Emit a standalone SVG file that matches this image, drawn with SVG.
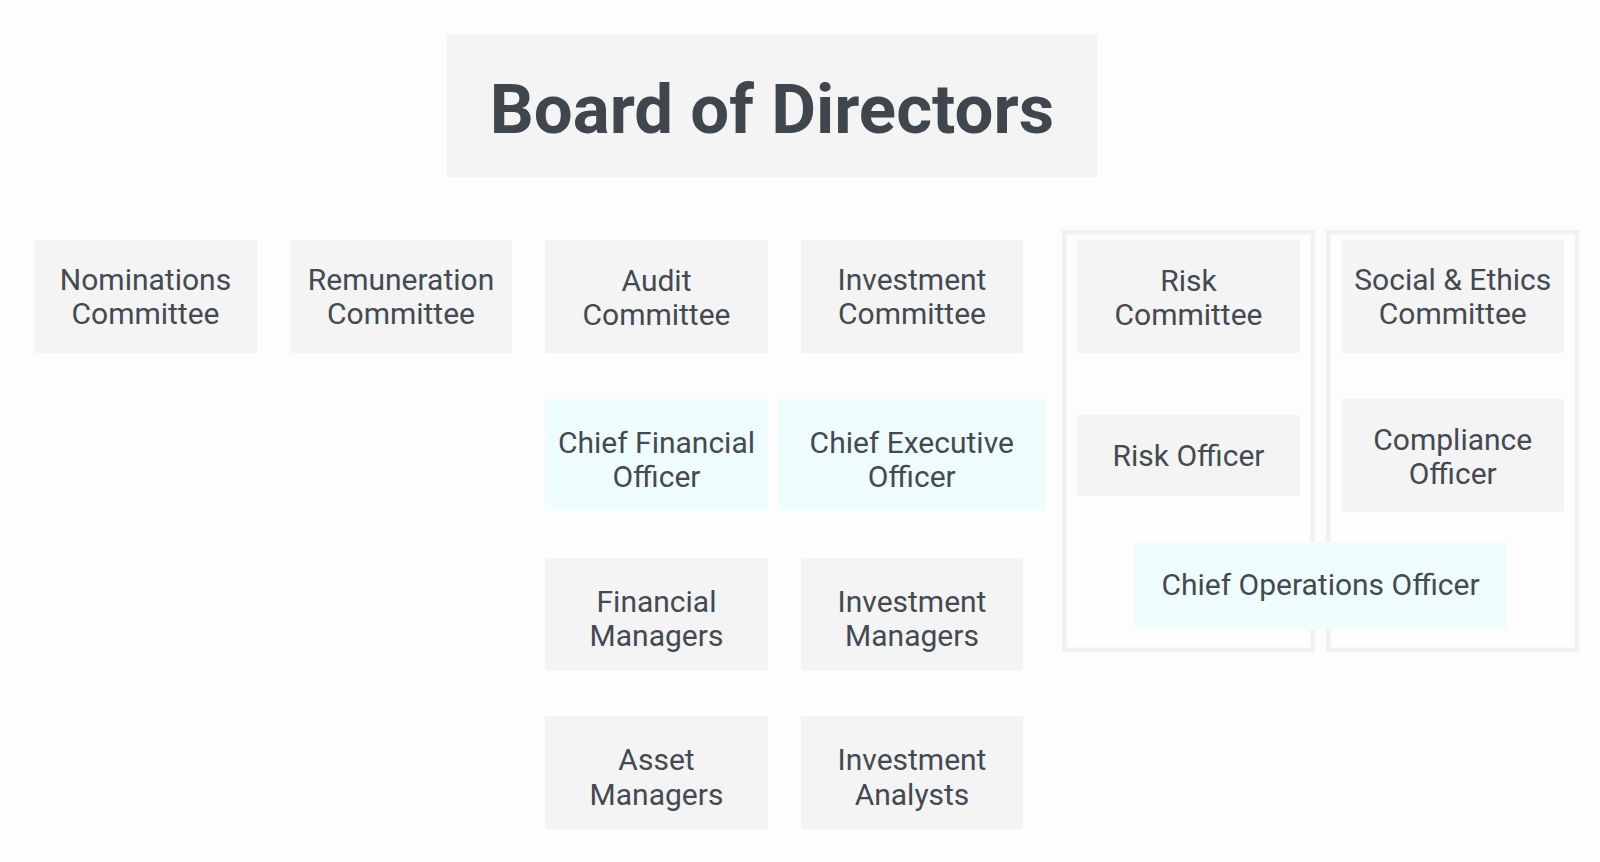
<svg xmlns="http://www.w3.org/2000/svg" width="1600" height="862" viewBox="0 0 1600 862">
<style>
  .box { fill: #f4f4f4; }
  .blue { fill: #f0fdff; }
  .frame { fill: none; stroke: #f1f1f1; stroke-width: 4.5; }
  .t { font-family: Roboto, "Liberation Sans", sans-serif; font-size: 30px; fill: #434a51; text-anchor: middle; }
  .title { font-family: Roboto, "Liberation Sans", sans-serif; font-size: 69px; font-weight: bold; fill: #3f464d; text-anchor: middle; }
</style>
<rect x="0" y="0" width="1600" height="862" fill="#fdfdfd"/>
<g id="containers">
  <rect class="frame" x="1064.25" y="232.25" width="248.5" height="417.5"/>
  <rect class="frame" x="1328.25" y="232.25" width="248.75" height="417.5"/>
</g>
<g id="connectors"></g>
<g id="board">
  <rect class="box" x="447" y="34" width="650" height="143"/>
  <text class="title" x="772" y="133">Board of Directors</text>
</g>
<g id="nominations">
  <rect class="box" x="34" y="240" width="223" height="113"/>
  <text class="t" x="145.5" y="290">Nominations</text>
  <text class="t" x="145.5" y="324">Committee</text>
</g>
<g id="remuneration">
  <rect class="box" x="290" y="240" width="222" height="113"/>
  <text class="t" x="401" y="290">Remuneration</text>
  <text class="t" x="401" y="324">Committee</text>
</g>
<g id="audit">
  <rect class="box" x="545" y="240" width="223" height="113"/>
  <text class="t" x="656.5" y="291">Audit</text>
  <text class="t" x="656.5" y="325">Committee</text>
</g>
<g id="investment-committee">
  <rect class="box" x="801" y="240" width="222" height="113"/>
  <text class="t" x="912" y="290">Investment</text>
  <text class="t" x="912" y="324">Committee</text>
</g>
<g id="risk-committee">
  <rect class="box" x="1077" y="240" width="223" height="113"/>
  <text class="t" x="1188.5" y="291">Risk</text>
  <text class="t" x="1188.5" y="325">Committee</text>
</g>
<g id="social-ethics">
  <rect class="box" x="1341.5" y="240" width="222.5" height="113"/>
  <text class="t" x="1452.75" y="290">Social &amp; Ethics</text>
  <text class="t" x="1452.75" y="324">Committee</text>
</g>
<g id="cfo">
  <rect class="blue" x="545" y="399" width="223" height="111.5"/>
  <text class="t" x="656.5" y="453">Chief Financial</text>
  <text class="t" x="656.5" y="487">Officer</text>
</g>
<g id="ceo">
  <rect class="blue" x="777.5" y="399" width="268.5" height="111.5"/>
  <text class="t" x="911.75" y="453">Chief Executive</text>
  <text class="t" x="911.75" y="487">Officer</text>
</g>
<g id="risk-officer">
  <rect class="box" x="1077" y="415" width="223" height="81"/>
  <text class="t" x="1188.5" y="466">Risk Officer</text>
</g>
<g id="compliance-officer">
  <rect class="box" x="1341.5" y="399" width="222.5" height="112.5"/>
  <text class="t" x="1452.75" y="450">Compliance</text>
  <text class="t" x="1452.75" y="484">Officer</text>
</g>
<g id="coo">
  <rect class="blue" x="1134" y="542" width="373" height="87.5"/>
  <text class="t" x="1320.5" y="595">Chief Operations Officer</text>
</g>
<g id="financial-managers">
  <rect class="box" x="545" y="558" width="223" height="112.5"/>
  <text class="t" x="656.5" y="612">Financial</text>
  <text class="t" x="656.5" y="646">Managers</text>
</g>
<g id="investment-managers">
  <rect class="box" x="801" y="558" width="222" height="112.5"/>
  <text class="t" x="912" y="612">Investment</text>
  <text class="t" x="912" y="646">Managers</text>
</g>
<g id="asset-managers">
  <rect class="box" x="545" y="716" width="223" height="113"/>
  <text class="t" x="656.5" y="770">Asset</text>
  <text class="t" x="656.5" y="805">Managers</text>
</g>
<g id="investment-analysts">
  <rect class="box" x="801" y="716" width="222" height="113"/>
  <text class="t" x="912" y="770">Investment</text>
  <text class="t" x="912" y="805">Analysts</text>
</g>
</svg>
